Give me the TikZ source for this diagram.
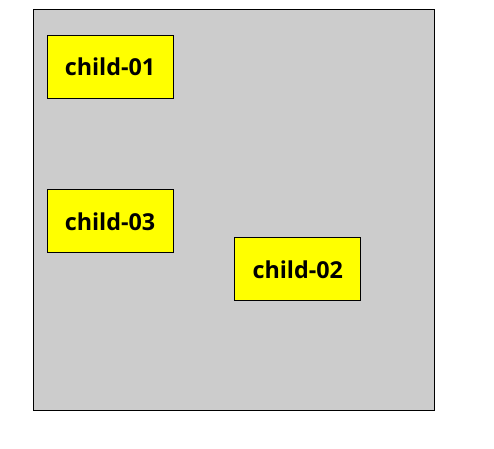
\documentclass[tikz,border=0pt]{standalone}
\usepackage{fontspec}
\setmainfont{Open Sans}
\usetikzlibrary{positioning}
\definecolor{childyellow}{RGB}{255,255,0}
\definecolor{framegray}{RGB}{204,204,204}

\begin{document}
\begin{tikzpicture}[
  x=0.75pt,y=-0.75pt,
  every node/.style={align=center},
  frame/.style={draw,line width=0.6pt,fill=framegray},
  child/.style={rectangle,draw,line width=0.6pt,fill=childyellow,minimum width=94.5pt,minimum height=47.25pt,
    font=\fontsize{17.5}{20}\selectfont\bfseries}
]
\useasboundingbox (0,0) rectangle (494,449);
\draw[frame] (33,9) rectangle (434,410);
\node[child] (c1) at (110,66.5) {child-01};
\node[child,below=68.25pt of c1] (c3) {child-03};
\node[child,right=45.75pt of c3,yshift=-36pt] (c2) {child-02};
\end{tikzpicture}
\end{document}
